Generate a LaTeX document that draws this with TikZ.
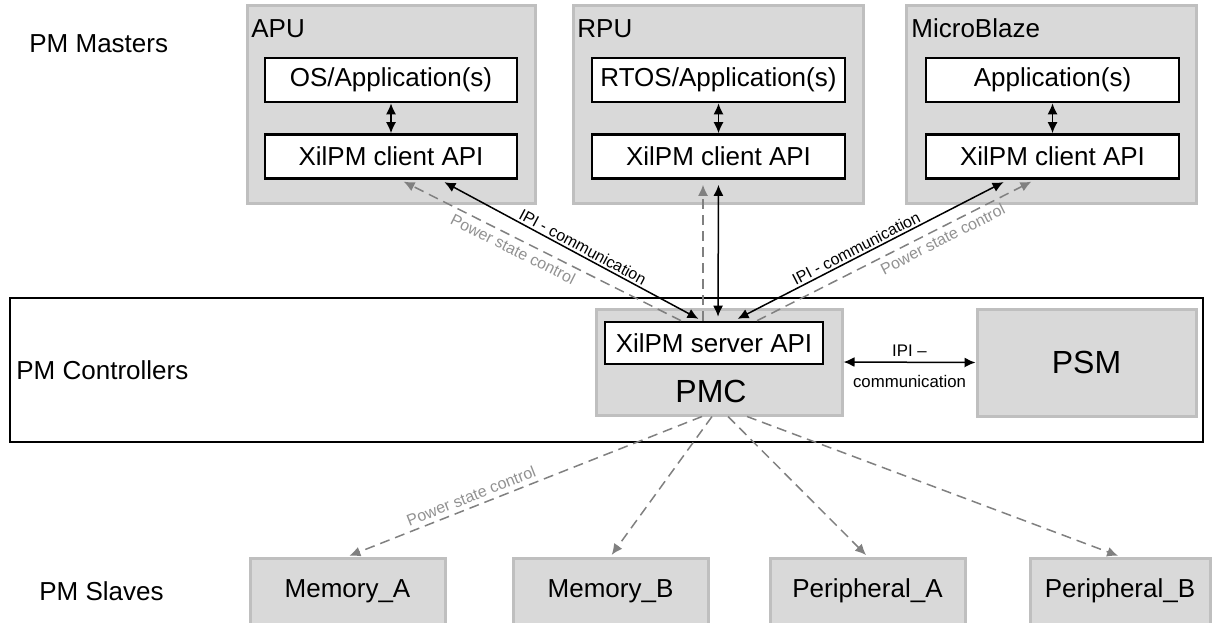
\documentclass[tikz,border=0pt]{standalone}
\usepackage{fontspec}
\setmainfont{Liberation Sans}
\usetikzlibrary{arrows.meta}

\definecolor{boxgray}{RGB}{217,217,217}
\definecolor{edgegray}{RGB}{191,191,191}
\definecolor{linegray}{RGB}{128,128,128}
\definecolor{textgray}{RGB}{145,145,145}

\tikzset{
  grpbox/.style={draw=edgegray, fill=boxgray, line width=1.5pt, inner sep=0pt},
  swbox/.style={draw=black, fill=white, line width=1.3pt, inner sep=0pt,
    minimum height=22pt, font=\fontsize{13}{15}\selectfont},
  slavebox/.style={grpbox, minimum width=97.5pt, minimum height=33pt,
    font=\fontsize{13}{15}\selectfont},
  lbl/.style={inner sep=0pt, font=\fontsize{13}{15}\selectfont},
  big/.style={inner sep=0pt, font=\fontsize{16}{18}\selectfont},
  dbl/.style={{Latex[length=5.5pt,width=5pt]}-{Latex[length=5.5pt,width=5pt]}, line width=0.75pt},
  pwr/.style={-{Latex[length=5.5pt,width=5pt]}, draw=linegray, line width=0.75pt,
    dash pattern=on 5pt off 3pt},
  note/.style={font=\fontsize{8}{9}\selectfont, sloped, inner sep=1pt},
  gnote/.style={note, text=textgray, inner sep=2.2pt}
}

\begin{document}
\begin{tikzpicture}[x=0.5pt, y=-0.5pt]
\useasboundingbox (0,0) rectangle (1214,622);

% row labels
\node[lbl, anchor=west] (mastlbl) at (29,44) {PM Masters};
\node[lbl, anchor=west] (ctrllbl) at (16,370) {PM Controllers};
\node[lbl, anchor=west] (slvlbl) at (39,591) {PM Slaves};

% masters
\node[grpbox, minimum width=144pt, minimum height=99pt] (apu) at (391,104) {};
\node[lbl, anchor=base west] (apulbl) at (251,37) {APU};
\node[swbox, minimum width=126pt] (apuapp) at (391,80) {OS/Application(s)};
\node[swbox, minimum width=126pt] (apuapi) at (391,156.5) {XilPM client API};
\draw[dbl] (apuapp) -- (apuapi);

\node[grpbox, minimum width=145pt, minimum height=99pt] (rpu) at (718,104) {};
\node[lbl, anchor=base west] (rpulbl) at (577,37) {RPU};
\node[swbox, minimum width=126.5pt] (rpuapp) at (718.5,80) {RTOS/Application(s)};
\node[swbox, minimum width=126.5pt] (rpuapi) at (718.5,156.5) {XilPM client API};
\draw[dbl] (rpuapp) -- (rpuapi);

\node[grpbox, minimum width=145pt, minimum height=99pt] (mb) at (1051,104) {};
\node[lbl, anchor=base west] (mblbl) at (911,37) {MicroBlaze};
\node[swbox, minimum width=126.5pt] (mbapp) at (1052.5,80) {Application(s)};
\node[swbox, minimum width=126.5pt] (mbapi) at (1052.5,156.5) {XilPM client API};
\draw[dbl] (mbapp) -- (mbapi);

% controllers
\node[draw, line width=1.2pt, inner sep=0pt, minimum width=596.5pt, minimum height=72pt] (ctrl) at (606.5,370) {};
\node[grpbox, minimum width=123pt, minimum height=53pt] (pmc) at (719,362) {};
\node[swbox, minimum width=109pt, minimum height=21pt] (srvapi) at (714,343) {XilPM server API};
\node[big] (pmclbl) at (711,391) {PMC};
\node[grpbox, big, minimum width=109.5pt, minimum height=53.5pt] (psm) at (1086.5,362.5) {PSM};
\draw[dbl] (pmc.east) -- (psm.west)
  node[midway, above=2.5pt, inner sep=0pt, font=\fontsize{8.4}{10}\selectfont] {IPI –}
  node[midway, below=6pt, inner sep=0pt, font=\fontsize{8.4}{10}\selectfont] {communication};

% masters <-> server
\draw[pwr, shorten >=2pt] ([xshift=-16.5pt]srvapi.north) -- ([xshift=4.5pt]apuapi.south)
  node[gnote, below, pos=0.58] {Power state control};
\draw[dbl, shorten <=2pt, shorten >=2.5pt] ([xshift=-6pt]srvapi.north) -- ([xshift=24.5pt]apuapi.south)
  node[note, above, pos=0.47] {IPI - communication};
\draw[pwr, shorten >=2.5pt] ([xshift=-5.5pt]srvapi.north) -- ([xshift=-7.75pt]rpuapi.south);
\draw[dbl, shorten <=2pt, shorten >=2.5pt] ([xshift=2pt]srvapi.north) -- (rpuapi.south);
\draw[dbl, shorten <=2pt, shorten >=2.5pt] ([xshift=10pt]srvapi.north) -- ([xshift=-22.25pt]mbapi.south)
  node[note, above, pos=0.46] {IPI - communication};
\draw[pwr, shorten >=2pt] ([xshift=21.5pt]srvapi.north) -- ([xshift=-8.75pt]mbapi.south)
  node[gnote, below, pos=0.65] {Power state control};

% slaves
\node[slavebox] (memA) at (347.5,591) {Memory\_A};
\node[slavebox] (memB) at (610.5,591) {Memory\_B};
\node[slavebox] (perA) at (867.5,591) {Peripheral\_A};
\node[slavebox, minimum width=90pt] (perB) at (1120,591) {Peripheral\_B};

\draw[pwr, shorten >=1pt] ([xshift=-8.5pt]pmc.south) -- (memA.north)
  node[gnote, above, pos=0.64] {Power state control};
\draw[pwr, shorten >=1pt] ([xshift=-3.5pt]pmc.south) -- (memB.north);
\draw[pwr, shorten >=1pt] ([xshift=4.5pt]pmc.south) -- (perA.north);
\draw[pwr, shorten >=1pt] ([xshift=14pt]pmc.south) -- (perB.north);
\end{tikzpicture}
\end{document}
